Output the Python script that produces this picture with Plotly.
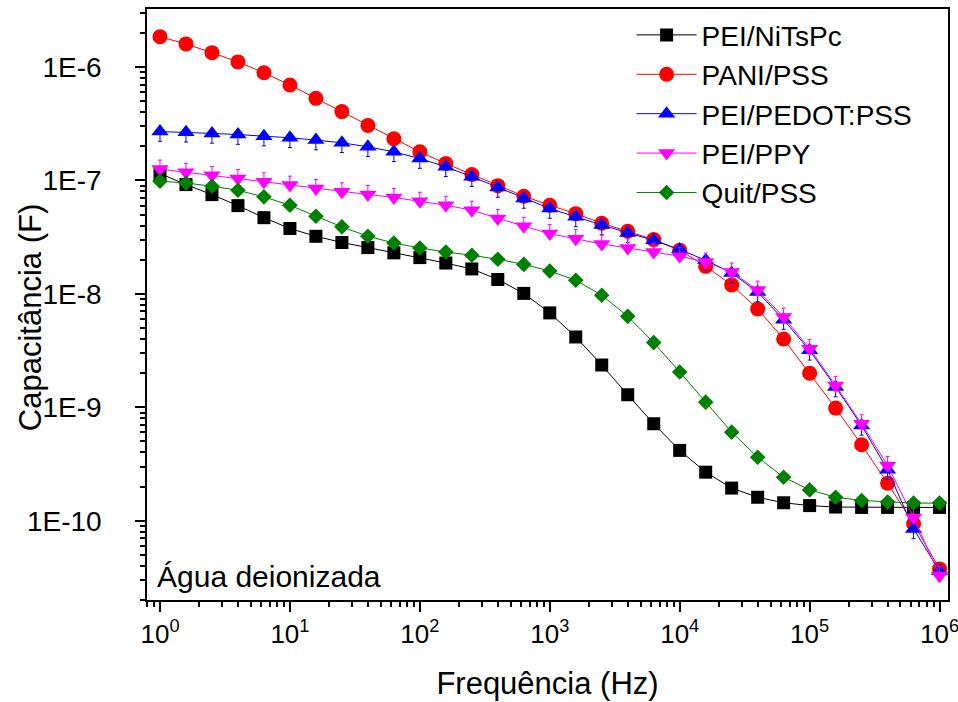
import numpy as np
import plotly.graph_objects as go

freq = [10 ** (i / 5) for i in range(31)]

pei_nitspc = [1.15e-7, 9.2e-8, 7.5e-8, 6.0e-8, 4.7e-8, 3.77e-8, 3.22e-8, 2.84e-8, 2.56e-8, 2.3e-8,
              2.09e-8, 1.87e-8, 1.66e-8, 1.34e-8, 1.01e-8, 6.8e-9, 4.17e-9, 2.36e-9, 1.29e-9, 7.16e-10,
              4.17e-10, 2.68e-10, 1.94e-10, 1.61e-10, 1.44e-10, 1.36e-10, 1.32e-10, 1.31e-10, 1.31e-10, 1.31e-10,
              1.31e-10]
pani_pss = [1.85e-6, 1.6e-6, 1.34e-6, 1.11e-6, 8.9e-7, 6.95e-7, 5.3e-7, 4.05e-7, 3.06e-7, 2.33e-7,
            1.79e-7, 1.41e-7, 1.13e-7, 9.0e-8, 7.27e-8, 6.05e-8, 5.1e-8, 4.2e-8, 3.57e-8, 3.01e-8,
            2.43e-8, 1.75e-8, 1.2e-8, 7.37e-9, 4.0e-9, 2.0e-9, 9.84e-10, 4.67e-10, 2.14e-10, 9.4e-11,
            3.76e-11]
pei_pedot = [2.7e-7, 2.66e-7, 2.6e-7, 2.54e-7, 2.46e-7, 2.38e-7, 2.27e-7, 2.15e-7, 1.98e-7, 1.79e-7,
             1.56e-7, 1.32e-7, 1.08e-7, 8.67e-8, 6.94e-8, 5.66e-8, 4.78e-8, 4.04e-8, 3.45e-8, 2.97e-8,
             2.46e-8, 1.98e-8, 1.53e-8, 1.04e-8, 5.93e-9, 3.18e-9, 1.51e-9, 6.92e-10, 2.81e-10, 8.47e-11,
             3.6e-11]
pei_ppy = [1.26e-7, 1.18e-7, 1.11e-7, 1.04e-7, 9.73e-8, 9.1e-8, 8.5e-8, 7.94e-8, 7.52e-8, 7.08e-8,
           6.56e-8, 6.05e-8, 5.47e-8, 4.62e-8, 3.95e-8, 3.4e-8, 3.07e-8, 2.75e-8, 2.54e-8, 2.34e-8,
           2.15e-8, 1.91e-8, 1.56e-8, 1.08e-8, 6.25e-9, 3.29e-9, 1.56e-9, 7.16e-10, 3.07e-10, 1.07e-10,
           3.28e-11]
quit_pss = [9.86e-8, 9.5e-8, 8.9e-8, 8.2e-8, 7.17e-8, 6.05e-8, 4.84e-8, 3.9e-8, 3.22e-8, 2.81e-8,
            2.54e-8, 2.34e-8, 2.19e-8, 2.02e-8, 1.82e-8, 1.59e-8, 1.32e-8, 9.72e-9, 6.34e-9, 3.72e-9,
            2.05e-9, 1.11e-9, 6.04e-10, 3.63e-10, 2.42e-10, 1.87e-10, 1.61e-10, 1.51e-10, 1.46e-10, 1.43e-10,
            1.43e-10]

# name, values, colour, symbol, size, error (plus %, minus %)
series = [
    ("PEI/NiTsPc", pei_nitspc, "#000000", "square", 13, None),
    ("PANI/PSS", pani_pss, "#FF0000", "circle", 15, None),
    ("PEI/PEDOT:PSS", pei_pedot, "#0000FF", "triangle-up", 15, (5, 18)),
    ("PEI/PPY", pei_ppy, "#FF00FF", "triangle-down", 15, (20, 5)),
    ("Quit/PSS", quit_pss, "#008000", "diamond", 12, None),
]

x_tickvals = [10 ** k for k in range(7)]
x_ticktext = ["10<sup>%d</sup>" % k for k in range(7)]
y_tickvals = [10 ** k for k in range(-10, -5)]
y_ticktext = ["1E%d\u00a0" % k for k in range(-10, -5)]

x_minor = [m * 10 ** k for k in range(-1, 7) for m in range(2, 10)]
y_minor = [m * 10 ** k for k in range(-12, -5) for m in range(2, 10)]

fig = go.Figure()
for name, vals, color, sym, size, err in series:
    tr = dict(
        x=freq, y=vals, name=name, mode="lines+markers", legendgroup=name,
        line=dict(color=color, width=1),
        marker=dict(symbol=sym, size=size, color=color, line=dict(width=0)),
    )
    if err:
        tr["error_y"] = dict(type="percent", symmetric=False, value=err[0], valueminus=err[1],
                             color=color, thickness=1, width=2)
    fig.add_trace(go.Scatter(**tr))

axis_common = dict(
    showline=True, linecolor="black", linewidth=2, mirror=True,
    ticks="outside", ticklen=10, tickwidth=1.5, tickcolor="black",
    showgrid=False, zeroline=False, automargin=False,
)

fig.update_xaxes(
    type="log", range=[-0.1, 6.065],
    tickvals=x_tickvals, ticktext=x_ticktext,
    tickfont=dict(family="Arial", size=26, color="black"),
    ticklabeloverflow="allow",
    title=dict(text="Frequência (Hz)", font=dict(family="Arial", size=31, color="black"), standoff=24),
    minor=dict(tickvals=x_minor, ticks="outside", ticklen=5, tickwidth=1.5, tickcolor="black", showgrid=False),
    **axis_common,
)
fig.update_yaxes(
    type="log", range=[np.log10(2e-11), np.log10(3.25e-6)],
    tickvals=y_tickvals, ticktext=y_ticktext,
    tickfont=dict(family="Arial", size=28, color="black"),
    ticklabelstandoff=20,
    minor=dict(tickvals=y_minor, ticks="outside", ticklen=5, tickwidth=1.5, tickcolor="black", showgrid=False),
    **axis_common,
)

fig.add_annotation(
    text="Capacitância (F)", xref="paper", yref="paper", x=-0.146, y=0.477,
    xanchor="center", yanchor="middle", textangle=-90, showarrow=False,
    font=dict(family="Arial", size=31, color="black"),
)
fig.add_annotation(
    text="Água deionizada", xref="paper", yref="paper", x=0.01, y=0.04,
    xanchor="left", yanchor="middle", showarrow=False,
    font=dict(family="Arial", size=30, color="black"),
)

fig.update_layout(
    width=958, height=702,
    margin=dict(l=147, r=10, t=9, b=102, autoexpand=False),
    paper_bgcolor="white", plot_bgcolor="white",
    showlegend=True,
    legend=dict(
        x=0.605, y=0.998, xanchor="left", yanchor="top",
        font=dict(family="Arial", size=28, color="black"),
        bgcolor="rgba(0,0,0,0)", borderwidth=0,
        itemwidth=60, tracegroupgap=0,
    ),
)

fig.write_html("out.html")
